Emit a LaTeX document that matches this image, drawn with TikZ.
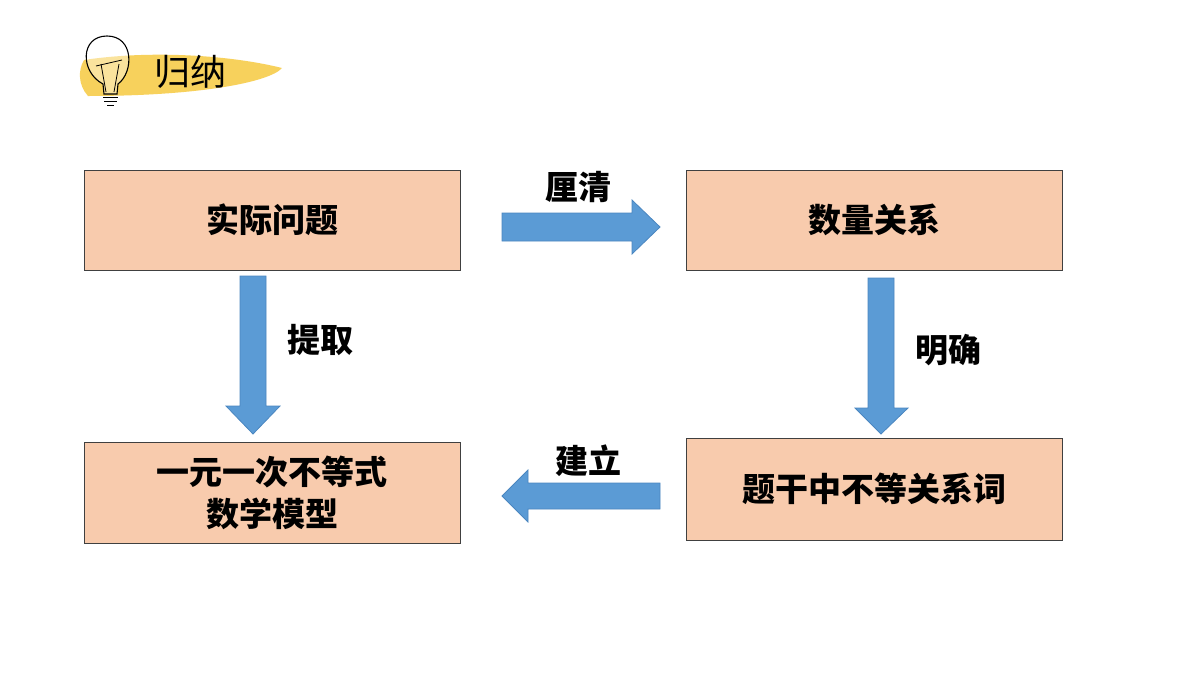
\documentclass[tikz,border=0pt]{standalone}
\usepackage{fontspec}
\newfontfamily\cjk{Noto Sans CJK SC}
\begin{document}
\begin{tikzpicture}[x=1pt,y=-1pt,
 box/.style={draw=black!75,line width=1pt,fill=peach,minimum width=376pt,align=center,font=\cjk\bfseries\fontsize{33}{42}\selectfont,inner sep=0pt},
 lab/.style={font=\cjk\bfseries\fontsize{33}{38}\selectfont},
 arr/.style={fill=blueA,draw=blueB,line width=0.8pt}]
\definecolor{peach}{HTML}{F8CBAD}
\definecolor{blueA}{HTML}{5B9BD5}
\definecolor{blueB}{HTML}{4A86C0}
\definecolor{brush}{HTML}{F6C634}
\useasboundingbox (0,0) rectangle (1200,675);
\fill[white] (0,0) rectangle (1200,675);
% header
\fill[brush,opacity=0.8] (84,60) .. controls (150,50) and (230,55) .. (282,68) .. controls (270,82) and (200,96) .. (88,96) .. controls (78,85) and (78,70) .. (84,60);
\draw[line width=1.1pt,fill=white,fill opacity=0.4] (103,84) .. controls (80,72) and (80,36) .. (107,36) .. controls (134,36) and (134,72) .. (118,84) -- (117,94) -- (104,94) -- cycle;
\draw[line width=0.9pt] (103,97) -- (118,97) (104,101) -- (117,101) (107,105) -- (114,105);
\draw[line width=0.8pt] (106,92) -- (101,64) (114,92) -- (119,64) (96,66) -- (122,60);
\node[font=\cjk\fontsize{36}{40}\selectfont] (title) at (190,72) {归纳};
% boxes
\node[box,minimum height=100pt] (a) at (272,220) {实际问题};
\node[box,minimum height=100pt] (b) at (874,220) {数量关系};
\node[box,minimum height=101pt] (c) at (272,492.5) {一元一次不等式\\数学模型};
\node[box,minimum height=102pt] (d) at (874,489) {题干中不等关系词};
% arrows
\draw[arr] (502,213) -- (632,213) -- (632,200) -- (660,227) -- (632,254) -- (632,241) -- (502,241) -- cycle;
\draw[arr] (240,276) -- (266,276) -- (266,406) -- (280,406) -- (253,434) -- (226,406) -- (240,406) -- cycle;
\draw[arr] (868,278) -- (894,278) -- (894,408) -- (908,408) -- (881,434) -- (855,408) -- (868,408) -- cycle;
\draw[arr] (660,483) -- (528,483) -- (528,470) -- (502,496) -- (528,522) -- (528,509) -- (660,509) -- cycle;
% labels
\node[lab] (l1) at (578,187) {厘清};
\node[lab] (l2) at (320,340) {提取};
\node[lab] (l3) at (948,350) {明确};
\node[lab] (l4) at (588,461) {建立};
\end{tikzpicture}
\end{document}
